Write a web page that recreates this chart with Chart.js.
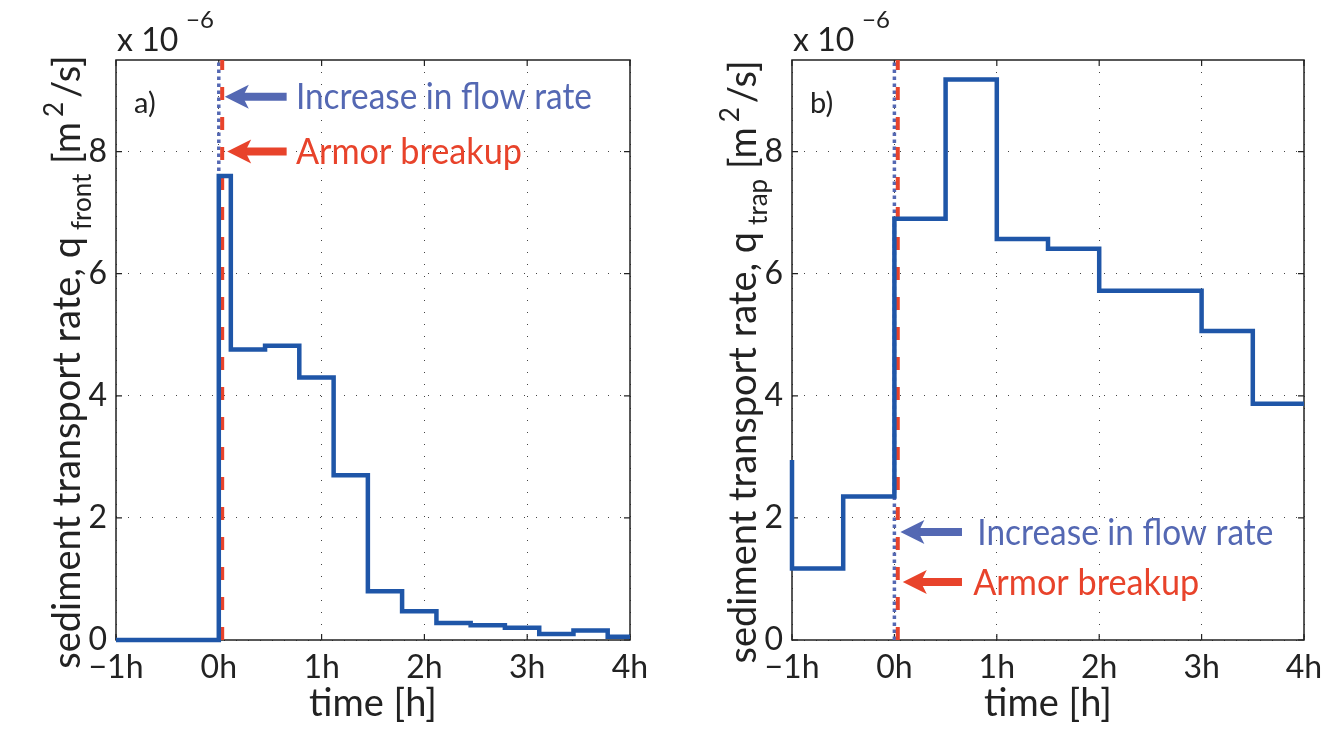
<!DOCTYPE html>
<html>
<head>
<meta charset="utf-8">
<script src="https://cdn.jsdelivr.net/npm/chart.js@4.4.0/dist/chart.umd.min.js"></script>
<style>
  body { margin: 0; background: #fff; width: 1338px; height: 733px; overflow: hidden; position: relative; }
  canvas { position: absolute; top: 0; }
  #chartA { left: 0; }
  #chartB { left: 669px; }
</style>
</head>
<body>
<canvas id="chartA" width="669" height="733"></canvas>
<canvas id="chartB" width="669" height="733"></canvas>
<script>
// panel a) sediment transport at the front (x 1e-6 m2/s), stepped in time [h]
const hoursA = [-1, 0, 0.117, 0.45, 0.783, 1.117, 1.45, 1.783, 2.117, 2.45, 2.783, 3.117, 3.45, 3.783, 4];
const qFront = [0, 7.6, 4.76, 4.82, 4.3, 2.7, 0.8, 0.47, 0.28, 0.24, 0.2, 0.1, 0.155, 0.055, 0.055];

// panel b) sediment transport into the trap
const hoursB = [-1, -1, -0.5, 0, 0.5, 1, 1.5, 2, 3, 3.5, 4];
const qTrap = [2.95, 1.17, 2.35, 6.9, 9.18, 6.57, 6.41, 5.72, 5.06, 3.87, 3.87];

// events (time in h)
const flowIncreaseAt = 0;
const breakupAt = 0.033;

// annotation levels [flow arrow, breakup arrow] per panel
const arrowLevelsA = [8.9, 8.0];
const arrowLevelsB = [1.77, 0.95];
const noteTextX = { a: [0.75, 0.75], b: [0.81, 0.77] };

const xTicks = [-1, 0, 1, 2, 3, 4];
const yTicks = [0, 2, 4, 6, 8];
const yMax = 9.5;

const FONT = 'Lato, "Open Sans", sans-serif';
const LINE_BLUE = '#1f56a8';
const MARK_BLUE = '#5468b3';
const MARK_RED = '#e8432b';

function hourLabel(v) {
  return (v < 0 ? '\u2212' + (-v) : v) + 'h';
}

function drawArrow(ctx, tipX, tailX, y, color) {
  const headL = 24, hw = 12;
  ctx.save();
  ctx.fillStyle = color;
  ctx.strokeStyle = color;
  ctx.lineWidth = 8;
  ctx.beginPath();
  ctx.moveTo(tailX, y);
  ctx.lineTo(tipX + headL * 0.7, y);
  ctx.stroke();
  ctx.beginPath();
  ctx.moveTo(tipX, y);
  ctx.lineTo(tipX + headL, y - hw);
  ctx.lineTo(tipX + headL * 0.75, y);
  ctx.lineTo(tipX + headL, y + hw);
  ctx.closePath();
  ctx.fill();
  ctx.restore();
}

const decor = {
  id: 'decor',
  beforeDatasetsDraw(chart) {
    const { ctx, chartArea: a, scales: { x, y } } = chart;
    ctx.save();
    ctx.strokeStyle = '#222';
    ctx.lineWidth = 1.5;
    ctx.strokeRect(a.left, a.top, a.width, a.height);
    ctx.lineWidth = 1.2;
    ctx.beginPath();
    x.ticks.forEach(t => {
      const px = x.getPixelForValue(t.value);
      ctx.moveTo(px, a.bottom); ctx.lineTo(px, a.bottom - 6);
      ctx.moveTo(px, a.top); ctx.lineTo(px, a.top + 6);
    });
    y.ticks.forEach(t => {
      const py = y.getPixelForValue(t.value);
      ctx.moveTo(a.left, py); ctx.lineTo(a.left + 6, py);
      ctx.moveTo(a.right, py); ctx.lineTo(a.right - 6, py);
    });
    ctx.stroke();
    ctx.restore();
  },
  afterDraw(chart, args, opts) {
    const { ctx, chartArea: a, scales: { x, y } } = chart;
    // arrows and notes
    const tipX = [x.getPixelForValue(flowIncreaseAt) + 6, x.getPixelForValue(breakupAt) + 5];
    const tailX = x.getPixelForValue(0.66);
    const notes = ['Increase in flow rate', 'Armor breakup'];
    const colors = [MARK_BLUE, MARK_RED];
    const widths = [296, 226];
    opts.levels.forEach((lv, i) => {
      const py = y.getPixelForValue(lv);
      drawArrow(ctx, tipX[i], tailX, py, colors[i]);
      ctx.save();
      ctx.fillStyle = colors[i];
      ctx.font = '36px ' + FONT;
      ctx.textBaseline = 'middle';
      ctx.textAlign = 'left';
      ctx.fillText(notes[i], x.getPixelForValue(opts.noteX[i]), py + 1, widths[i]);
      ctx.restore();
    });

    ctx.save();
    ctx.fillStyle = '#222';
    // panel letter
    ctx.font = '29px ' + FONT;
    ctx.textBaseline = 'middle';
    ctx.fillText(opts.letter, a.left + 18, a.top + 44);
    // exponent
    ctx.textBaseline = 'alphabetic';
    ctx.font = '32px ' + FONT;
    ctx.fillText('x 10', a.left + 1, a.top - 9);
    ctx.font = '24px ' + FONT;
    ctx.fillText('\u22126', a.left + 70, a.top - 32);

    // y axis title with sub/superscript
    const parts = [
      { t: 'sediment transport rate, q', s: 38, dy: 0 },
      { t: opts.sub, s: 26, dy: 11, gap: 7 },
      { t: ' [m', s: 38, dy: 0 },
      { t: '2', s: 26, dy: -17, gap: 5 },
      { t: '/s]', s: 38, dy: 0, gap: 4 }
    ];
    let total = 0;
    parts.forEach(p => { ctx.font = p.s + 'px ' + FONT; p.w = ctx.measureText(p.t).width; total += p.w + (p.gap || 0); });
    ctx.translate(a.left - 36, (a.top + a.bottom) / 2 + 12);
    ctx.rotate(-Math.PI / 2);
    let cx = -total / 2;
    parts.forEach(p => {
      cx += p.gap || 0;
      ctx.font = p.s + 'px ' + FONT;
      ctx.fillText(p.t, cx, p.dy);
      cx += p.w;
    });
    ctx.restore();
  }
};

function makeChart(id, hours, values, padRight, yAxisWidth, plugOpts) {
  const marker = (t, color, dash, width) => ({
    data: [{ x: t, y: 0 }, { x: t, y: yMax }],
    borderColor: color,
    borderWidth: width,
    borderDash: dash,
    pointRadius: 0,
    clip: false
  });
  return new Chart(document.getElementById(id), {
    type: 'line',
    data: {
      datasets: [
        {
          data: hours.map((h, i) => ({ x: h, y: values[i] })),
          borderColor: LINE_BLUE,
          borderWidth: 4.5,
          stepped: true,
          pointRadius: 0,
          clip: { left: 3, top: 5, right: 3, bottom: 5 }
        },
        marker(breakupAt, MARK_RED, [13, 17], 4),
        marker(flowIncreaseAt, MARK_BLUE, [3.5, 3.5], 3.5)
      ]
    },
    options: {
      responsive: false,
      devicePixelRatio: 1,
      animation: false,
      layout: { padding: { left: 0, top: 60, right: padRight, bottom: 0 } },
      plugins: { legend: { display: false }, tooltip: { enabled: false }, decor: plugOpts },
      scales: {
        x: {
          type: 'linear',
          min: -1, max: 4,
          afterBuildTicks: s => { s.ticks = xTicks.map(v => ({ value: v })); },
          afterFit: s => { s.height = 93; },
          grid: { color: '#444', lineWidth: 1, drawTicks: false },
          border: { display: false, dash: [1, 11] },
          ticks: { color: '#222', font: { family: FONT, size: 32 }, padding: 8, maxRotation: 0, callback: hourLabel },
          title: { display: true, text: 'time [h]', color: '#222', font: { family: FONT, size: 38 }, padding: { top: 0, bottom: 6 } }
        },
        y: {
          min: 0, max: yMax,
          afterBuildTicks: s => { s.ticks = yTicks.map(v => ({ value: v })); },
          afterFit: s => { s.width = yAxisWidth; },
          grid: { color: '#444', lineWidth: 1, drawTicks: false },
          border: { display: false, dash: [1, 11] },
          ticks: { color: '#222', font: { family: FONT, size: 32 }, padding: 9 }
        }
      }
    },
    plugins: [decor]
  });
}

makeChart('chartA', hoursA, qFront, 39, 116, { levels: arrowLevelsA, noteX: noteTextX.a, letter: 'a)', sub: 'front' });
makeChart('chartB', hoursB, qTrap, 34, 123, { levels: arrowLevelsB, noteX: noteTextX.b, letter: 'b)', sub: 'trap' });
</script>
</body>
</html>
